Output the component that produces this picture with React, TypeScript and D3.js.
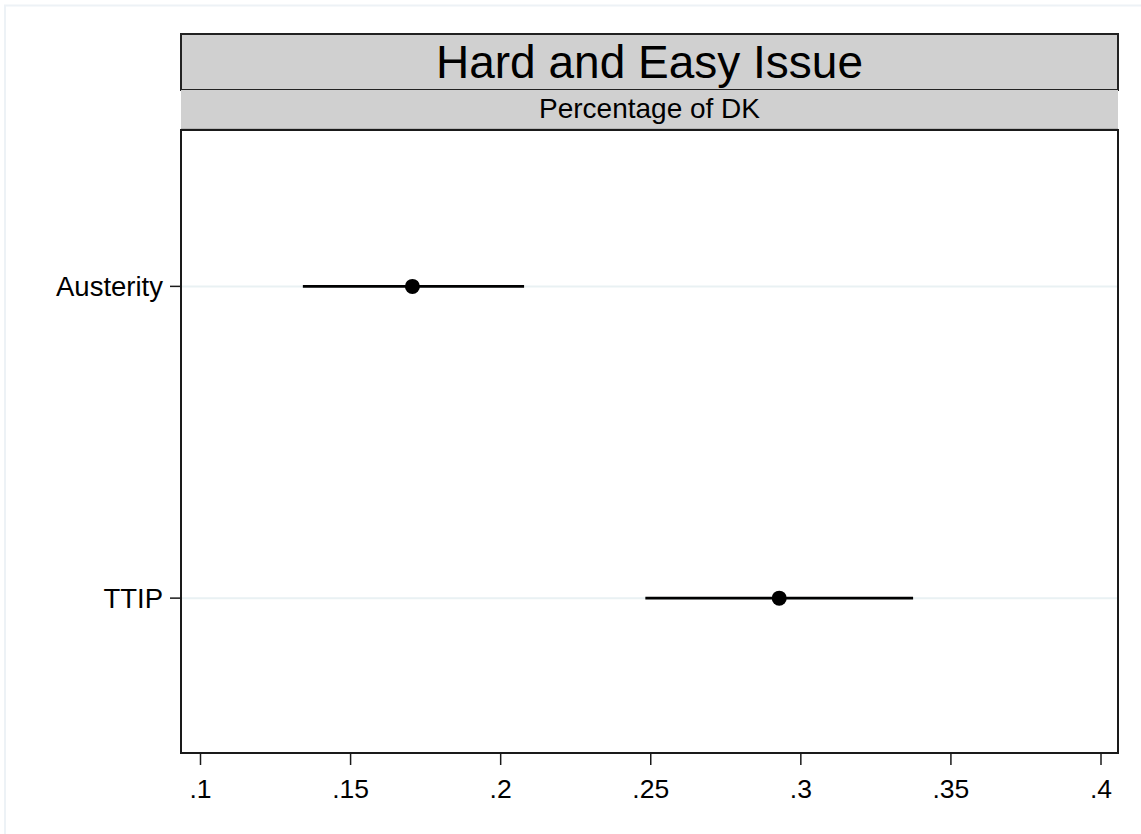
import React from "react";
import * as d3 from "d3";

const categories = ["Austerity", "TTIP"];
const estimates = [0.1706, 0.2928];
const ciLow = [0.1341, 0.2482];
const ciHigh = [0.2078, 0.3374];
const xTicks = [0.1, 0.15, 0.2, 0.25, 0.3, 0.35, 0.4];
const title = "Hard and Easy Issue";
const subtitle = "Percentage of DK";

const W = 1141;
const H = 834;
const plot = { left: 181, right: 1118, top: 130, bottom: 753 };
const FONT = "'Liberation Sans', Arial, Helvetica, sans-serif";

export default function App() {
  const x = d3.scaleLinear().domain([0.1, 0.4]).range([200.5, 1101]);
  const y = d3.scalePoint<string>().domain(categories).range([plot.top + 0.5, plot.bottom + 1]).padding(0.5);
  const fmt = (v: number) => d3.format(".2~f")(v).replace(/^0/, "");

  return (
    <svg width={W} height={H} style={{ position: "absolute", left: 0, top: 0, background: "#fff" }} fontFamily={FONT}>
      <rect x={0} y={0} width={W} height={H} fill="#fff" />
      <rect x={5} y={5.5} width={W + 20} height={H + 20} fill="none" stroke="#edf2f6" strokeWidth={2} />

      {/* title box */}
      <rect x={plot.left} y={34} width={plot.right - plot.left} height={56} fill="#d0d0d0" stroke="#222" strokeWidth={2} />
      <text x={(plot.left + plot.right) / 2} y={78} textAnchor="middle" fontSize={46} fill="#000">{title}</text>

      {/* subtitle band */}
      <rect x={plot.left} y={90} width={plot.right - plot.left} height={39} fill="#d0d0d0" />
      <line x1={plot.left} x2={plot.right} y1={129} y2={129} stroke="#9a9a9a" strokeWidth={1} />
      <text x={(plot.left + plot.right) / 2} y={118} textAnchor="middle" fontSize={28} fill="#000">{subtitle}</text>

      {/* gridlines */}
      {categories.map((c) => (
        <line key={"g" + c} x1={plot.left} x2={plot.right} y1={y(c)} y2={y(c)} stroke="#e9f1f3" strokeWidth={2} />
      ))}

      {/* plot frame */}
      <rect x={plot.left} y={plot.top} width={plot.right - plot.left} height={plot.bottom - plot.top} fill="none" stroke="#1a1a1a" strokeWidth={2} />

      {/* y axis ticks and labels */}
      {categories.map((c) => (
        <g key={"y" + c}>
          <line x1={170} x2={plot.left} y1={y(c)} y2={y(c)} stroke="#1a1a1a" strokeWidth={1.5} />
          <text x={163} y={(y(c) as number) + 10} textAnchor="end" fontSize={27.5} fill="#000">{c}</text>
        </g>
      ))}

      {/* x axis ticks and labels */}
      {xTicks.map((t) => (
        <g key={"x" + t}>
          <line x1={x(t)} x2={x(t)} y1={plot.bottom} y2={765} stroke="#1a1a1a" strokeWidth={1.5} />
          <text x={x(t)} y={798} textAnchor="middle" fontSize={26.5} fill="#000">{fmt(t)}</text>
        </g>
      ))}

      {/* CIs and points */}
      {categories.map((c, i) => (
        <g key={"d" + c}>
          <line x1={x(ciLow[i])} x2={x(ciHigh[i])} y1={y(c)} y2={y(c)} stroke="#000" strokeWidth={2.8} />
          <circle cx={x(estimates[i])} cy={y(c)} r={7.5} fill="#000" />
        </g>
      ))}
    </svg>
  );
}
